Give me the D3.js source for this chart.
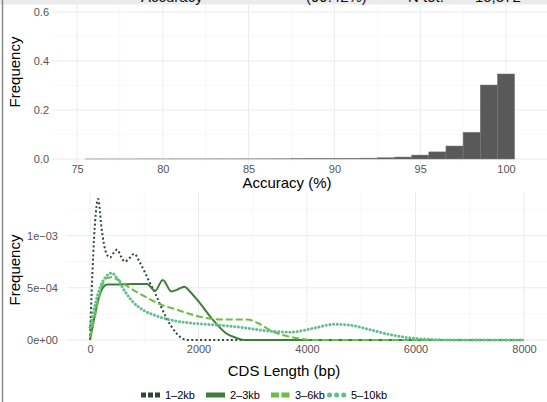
<!DOCTYPE html>
<html>
<head>
<meta charset="utf-8">
<script src="https://cdn.jsdelivr.net/npm/d3@7"></script>
<style>
  body { margin: 0; background: #fff; }
  svg { display: block; font-family: "Liberation Sans", Arial, sans-serif; }
</style>
</head>
<body>
<svg id="chart" width="547" height="402"></svg>
<script>
// accuracy histogram (bins of 1%, centred on integers)
let accBins = [76, 77, 78, 79, 80, 81, 82, 83, 84, 85, 86, 87, 88, 89, 90, 91, 92, 93, 94, 95, 96, 97, 98, 99, 100]
let accFreq = [0.0002, 0.0002, 0.0002, 0.0003, 0.0003, 0.0004, 0.0004, 0.0005, 0.0006, 0.0007, 0.0008, 0.001, 0.0012,
               0.0015, 0.002, 0.0025, 0.0035, 0.005, 0.008, 0.016, 0.029, 0.053, 0.109, 0.302, 0.347]
let accTicks = [75, 80, 85, 90, 95, 100]
let accYTicks = [0, 0.2, 0.4, 0.6]

// CDS length densities per read length group
let groups = ['1–2kb', '2–3kb', '3–6kb', '5–10kb']
let len12 = [[0, 0], [30, 4.5], [90, 11], [150, 13.5], [215, 10.6], [300, 8.3], [370, 7.9], [430, 8.3], [500, 8.65],
             [570, 8.0], [640, 7.5], [720, 7.8], [820, 8.25], [900, 7.6], [1000, 6.6], [1100, 5.5], [1200, 4.5],
             [1300, 3.3], [1400, 2.2], [1500, 1.3], [1600, 0.6], [1700, 0.15], [1800, 0], [8000, 0]]
let len23 = [[0, 0], [60, 1.6], [150, 3.8], [250, 5.1], [320, 5.3], [500, 5.3], [800, 5.35], [1050, 5.35], [1200, 4.7],
             [1340, 5.75], [1500, 4.65], [1600, 4.8], [1740, 5.1], [1850, 4.6], [2030, 3.5], [2270, 1.9], [2520, 0.6],
             [2700, 0.2], [2850, 0], [8000, 0]]
let len36 = [[0, 0.3], [100, 2.5], [200, 4.8], [300, 5.9], [400, 6.0], [500, 5.8], [700, 5.1], [1000, 4.2], [1300, 3.4],
             [1600, 2.9], [1900, 2.4], [2300, 2.0], [2600, 1.95], [2900, 1.95], [3100, 1.6], [3300, 1.0], [3500, 0.55],
             [3700, 0.3], [3900, 0.1], [4100, 0], [8000, 0]]
let len510 = [[0, 1.2], [100, 3.5], [200, 5.2], [300, 6.1], [400, 6.4], [500, 5.9], [650, 4.6], [800, 3.6], [1000, 2.8],
              [1200, 2.35], [1500, 1.9], [1900, 1.6], [2300, 1.45], [2800, 1.2], [3300, 0.85], [3700, 0.75], [4100, 1.1],
              [4500, 1.5], [4750, 1.45], [5150, 1.0], [5500, 0.55], [5900, 0.2], [6300, 0.05], [6700, 0], [8000, 0]]
let cdsTicks = [0, 2000, 4000, 6000, 8000]
let cdsYTicks = [0, 5e-4, 1e-3]
let cdsYLabels = ['0e+00', '5e\u221204', '1e\u221203']

let colors = ['#2b4a33', '#3f7d3b', '#6abd45', '#62be8e']

let svg = d3.select('#chart')

// frame bits: grey strip at the top (title cut off by the crop) and border at the left
svg.append('rect').attr('x', 0).attr('y', 0).attr('width', 547).attr('height', 4.5).attr('fill', '#ebebeb')
let strip = svg.append('text').attr('y', 1.8).attr('font-size', 15).attr('fill', '#111')
strip.append('tspan').attr('x', 141).text('Accuracy')
strip.append('tspan').attr('x', 306).text('(99.42%)')
strip.append('tspan').attr('x', 408).text('N tot.')
strip.append('tspan').attr('x', 462).text('= 15,372')
svg.append('line').attr('x1', 2.5).attr('x2', 2.5).attr('y1', 0).attr('y2', 402)
    .attr('stroke', '#8a8a8a').attr('stroke-width', 1.5)

let gridMajor = '#ebebeb'
let gridMinor = '#f4f4f4'

// ---------- top panel: accuracy ----------
let topBox = {left: 52, right: 547, top: 5, bottom: 163}
let xAcc = d3.scaleLinear().domain([75, 100]).range([77, 506])
let yAcc = d3.scaleLinear().domain([0, 0.2]).range([159, 110])

let topG = svg.append('g')

d3.range(72.5, 105, 5).forEach(v => {
    let px = xAcc(v)
    if (px > topBox.left && px < topBox.right)
        topG.append('line').attr('x1', px).attr('x2', px).attr('y1', topBox.top).attr('y2', topBox.bottom)
            .attr('stroke', gridMinor).attr('stroke-width', 0.6)
})
d3.range(0.1, 0.7, 0.2).forEach(v => {
    topG.append('line').attr('x1', topBox.left).attr('x2', topBox.right).attr('y1', yAcc(v)).attr('y2', yAcc(v))
        .attr('stroke', gridMinor).attr('stroke-width', 0.6)
})
accTicks.forEach(v => {
    topG.append('line').attr('x1', xAcc(v)).attr('x2', xAcc(v)).attr('y1', topBox.top).attr('y2', topBox.bottom)
        .attr('stroke', gridMajor).attr('stroke-width', 1)
})
accYTicks.forEach(v => {
    topG.append('line').attr('x1', topBox.left).attr('x2', topBox.right).attr('y1', yAcc(v)).attr('y2', yAcc(v))
        .attr('stroke', gridMajor).attr('stroke-width', 1)
})

topG.selectAll('rect.bar')
    .data(accBins)
    .enter()
    .append('rect')
    .attr('class', 'bar')
    .attr('x', d => xAcc(d - 0.5))
    .attr('width', d => xAcc(d + 0.5) - xAcc(d - 0.5))
    .attr('y', (d, i) => yAcc(accFreq[i]))
    .attr('height', (d, i) => yAcc(0) - yAcc(accFreq[i]))
    .attr('fill', '#595959')
    .attr('stroke', '#7a7a7a')
    .attr('stroke-width', 0.5)

let axAccX = d3.axisBottom(xAcc).tickValues(accTicks).tickSize(0).tickPadding(0)
topG.append('g').attr('transform', 'translate(0,' + 165 + ')').call(axAccX)
    .call(g => g.select('.domain').remove())
let axAccY = d3.axisLeft(yAcc).tickValues(accYTicks).tickFormat(d3.format('.1f')).tickSize(0).tickPadding(0)
topG.append('g').attr('transform', 'translate(' + 49 + ',0)').call(axAccY)
    .call(g => g.select('.domain').remove())

topG.append('text').attr('x', 287).attr('y', 188).attr('text-anchor', 'middle')
    .attr('font-size', 15).attr('fill', '#000').text('Accuracy (%)')
topG.append('text').attr('transform', 'translate(20,72) rotate(-90)').attr('text-anchor', 'middle')
    .attr('font-size', 15).attr('fill', '#000').text('Frequency')

// ---------- bottom panel: CDS length ----------
let botBox = {left: 67, right: 547, top: 192, bottom: 345}
let xCds = d3.scaleLinear().domain([0, 8000]).range([90, 524])
let yCds = d3.scaleLinear().domain([0, 1e-3]).range([340, 235.5])

let botG = svg.append('g')

d3.range(1000, 9000, 2000).forEach(v => {
    botG.append('line').attr('x1', xCds(v)).attr('x2', xCds(v)).attr('y1', botBox.top).attr('y2', botBox.bottom)
        .attr('stroke', gridMinor).attr('stroke-width', 0.6)
})
;[2.5e-4, 7.5e-4, 1.25e-3].forEach(v => {
    botG.append('line').attr('x1', botBox.left).attr('x2', botBox.right).attr('y1', yCds(v)).attr('y2', yCds(v))
        .attr('stroke', gridMinor).attr('stroke-width', 0.6)
})
cdsTicks.forEach(v => {
    botG.append('line').attr('x1', xCds(v)).attr('x2', xCds(v)).attr('y1', botBox.top).attr('y2', botBox.bottom)
        .attr('stroke', gridMajor).attr('stroke-width', 1)
})
cdsYTicks.forEach(v => {
    botG.append('line').attr('x1', botBox.left).attr('x2', botBox.right).attr('y1', yCds(v)).attr('y2', yCds(v))
        .attr('stroke', gridMajor).attr('stroke-width', 1)
})

let styles = [
    {dash: '2,2.4', width: 2, cap: 'butt'},
    {dash: null, width: 2, cap: 'butt'},
    {dash: '7,3', width: 2, cap: 'butt'},
    {dash: '0.1,3.6', width: 3, cap: 'round'}
]

let line = d3.line()
    .x(d => xCds(d[0]))
    .y(d => yCds(d[1] * 1e-4))
    .curve(d3.curveMonotoneX)

;[len12, len23, len36, len510].forEach((series, i) => {
    botG.append('path')
        .attr('d', line(series))
        .attr('fill', 'none')
        .attr('stroke', colors[i])
        .attr('stroke-width', styles[i].width)
        .attr('stroke-dasharray', styles[i].dash)
        .attr('stroke-linecap', styles[i].cap)
        .attr('stroke-linejoin', 'round')
})

let axCdsX = d3.axisBottom(xCds).tickValues(cdsTicks).tickFormat(d3.format('d')).tickSize(0).tickPadding(0)
botG.append('g').attr('transform', 'translate(0,' + 345 + ')').call(axCdsX)
    .call(g => g.select('.domain').remove())
let axCdsY = d3.axisLeft(yCds).tickValues(cdsYTicks).tickFormat((d, i) => cdsYLabels[i]).tickSize(0).tickPadding(0)
botG.append('g').attr('transform', 'translate(' + 58 + ',0)').call(axCdsY)
    .call(g => g.select('.domain').remove())

botG.append('text').attr('x', 284).attr('y', 376).attr('text-anchor', 'middle')
    .attr('font-size', 15).attr('fill', '#000').text('CDS Length (bp)')
botG.append('text').attr('transform', 'translate(20,270) rotate(-90)').attr('text-anchor', 'middle')
    .attr('font-size', 15).attr('fill', '#000').text('Frequency')

// axis text look
svg.selectAll('.tick text').attr('font-size', 11).attr('fill', '#555')
    .attr('font-family', '"Liberation Sans", Arial, sans-serif')

// ---------- legend ----------
let keyX = [141, 206, 271, 327]
let keyStyles = [
    {dash: '5,2', cap: 'butt'},
    {dash: null, cap: 'butt'},
    {dash: '8,2.5', cap: 'butt'},
    {dash: '0.1,7', cap: 'round'}
]
let legend = svg.append('g')
groups.forEach((g, i) => {
    legend.append('line')
        .attr('x1', keyX[i] + (i === 3 ? 2.5 : 0)).attr('x2', keyX[i] + 19)
        .attr('y1', 395).attr('y2', 395)
        .attr('stroke', colors[i]).attr('stroke-width', 5)
        .attr('stroke-dasharray', keyStyles[i].dash)
        .attr('stroke-linecap', keyStyles[i].cap)
    legend.append('text')
        .attr('x', keyX[i] + 24).attr('y', 399)
        .attr('font-size', 11).attr('fill', '#000')
        .text(g)
})
</script>
</body>
</html>
